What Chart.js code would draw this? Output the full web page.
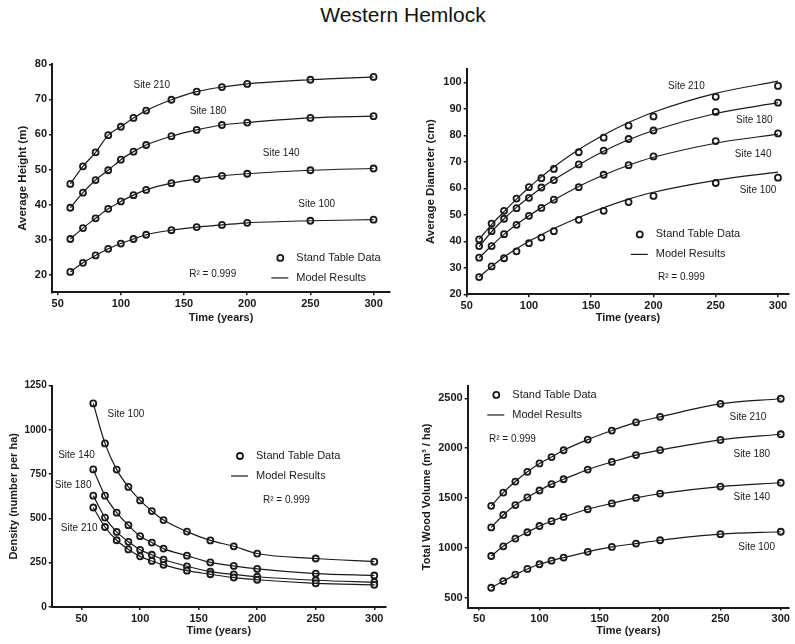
<!DOCTYPE html>
<html>
<head>
<meta charset="utf-8">
<title>Western Hemlock</title>
<script src="https://cdn.jsdelivr.net/npm/chart.js@4.4.1/dist/chart.umd.min.js"></script>
<style>
    html, body { margin: 0; padding: 0; background: #fff; }
    #page { position: relative; width: 795px; height: 644px; overflow: hidden; }
    #page canvas { position: absolute; left: 0; top: 0; }
    #title {
        position: absolute; left: 0; top: 3px; width: 806px; text-align: center;
        font: 21px "Liberation Sans", Arial, sans-serif; color: #111;
    }
</style>
</head>
<body>
<div id="page">
    <div id="title">Western Hemlock</div>
    <canvas id="cHeight" width="795" height="644"></canvas>
    <canvas id="cDiameter" width="795" height="644"></canvas>
    <canvas id="cDensity" width="795" height="644"></canvas>
    <canvas id="cVolume" width="795" height="644"></canvas>
</div>
<script>
// ---- data ----
const years = [60, 70, 80, 90, 100, 110, 120, 140, 160, 180, 200, 250, 300];
const siteNames = ['Site 210', 'Site 180', 'Site 140', 'Site 100'];
const xTicks = [50, 100, 150, 200, 250, 300];

// Average height (m)
const height210 = [45.9, 50.9, 54.9, 59.8, 62.2, 64.7, 66.8, 69.9, 72.2, 73.5, 74.4, 75.6, 76.4];
const height180 = [39.1, 43.4, 47.0, 49.8, 52.8, 55.1, 57.0, 59.5, 61.3, 62.7, 63.4, 64.7, 65.2];
const height140 = [30.2, 33.3, 36.1, 38.8, 40.9, 42.7, 44.2, 46.1, 47.3, 48.2, 48.8, 49.8, 50.3];
const height100 = [20.8, 23.4, 25.5, 27.4, 28.9, 30.2, 31.4, 32.7, 33.6, 34.2, 34.8, 35.4, 35.7];
const heightTicks = [20, 30, 40, 50, 60, 70, 80];

// Average diameter (cm): stand table points and model curves
const diam210 = [40.7, 46.7, 51.5, 56.1, 60.4, 63.8, 67.3, 73.6, 79.1, 83.6, 87.1, 94.5, 98.6];
const diam180 = [38.2, 43.8, 48.5, 52.5, 56.4, 60.3, 63.1, 69.0, 74.2, 78.6, 81.8, 88.8, 92.3];
const diam140 = [33.8, 38.2, 42.7, 46.2, 49.6, 52.6, 55.7, 60.4, 65.1, 68.7, 72.0, 77.8, 80.7];
const diam100 = [26.5, 30.5, 33.6, 36.2, 39.3, 41.4, 43.8, 48.1, 51.5, 54.8, 57.1, 62.0, 64.0];
const diamModel210 = [40.8, 46.3, 51.2, 55.9, 60.3, 64.3, 68.0, 74.6, 80.1, 84.8, 88.7, 95.8, 100.4];
const diamModel180 = [38.0, 43.6, 48.5, 52.8, 56.6, 60.1, 63.2, 68.9, 74.0, 78.3, 81.8, 88.2, 92.3];
const diamModel140 = [33.8, 38.3, 42.6, 46.3, 49.6, 52.7, 55.6, 60.7, 65.0, 68.7, 71.7, 77.0, 80.4];
const diamModel100 = [26.5, 30.5, 34.1, 37.2, 40.0, 42.5, 44.8, 49.0, 52.7, 55.9, 58.5, 63.0, 66.1];
const diamTicks = [20, 30, 40, 50, 60, 70, 80, 90, 100];

// Density (number per ha)
const dens100 = [1150, 924, 776, 678, 602, 542, 491, 426, 376, 343, 302, 274, 256];
const dens140 = [777, 629, 533, 462, 400, 364, 330, 290, 252, 232, 215, 189, 178];
const dens180 = [629, 505, 424, 368, 323, 295, 268, 230, 200, 184, 171, 151, 140];
const dens210 = [562, 452, 377, 325, 286, 260, 238, 205, 185, 166, 154, 134, 125];
const densTicks = [0, 250, 500, 750, 1000, 1250];

// Total wood volume (m3 / ha)
const vol210 = [1420, 1553, 1664, 1762, 1846, 1910, 1978, 2085, 2176, 2258, 2314, 2444, 2495];
const vol180 = [1204, 1329, 1428, 1505, 1574, 1638, 1687, 1784, 1861, 1930, 1980, 2082, 2139];
const vol140 = [917, 1014, 1092, 1155, 1218, 1266, 1309, 1386, 1445, 1500, 1543, 1614, 1652];
const vol100 = [598, 665, 730, 787, 834, 870, 901, 959, 1008, 1042, 1075, 1136, 1160];
const volTicks = [500, 1000, 1500, 2000, 2500];

const FONT = '"Liberation Sans", Arial, Helvetica, sans-serif';
const INK = '#1a1a1a';
Chart.defaults.font.family = FONT;
Chart.defaults.color = INK;

const toXY = (vals) => years.map((t, i) => ({ x: t, y: vals[i] }));

// Site names, legend and R^2 drawn at data coordinates
const notesPlugin = {
    id: 'notes',
    afterDatasetsDraw(chart, args, opts) {
        const { ctx } = chart;
        const xs = chart.scales.x, ys = chart.scales.y;
        ctx.save();
        ctx.fillStyle = INK;
        ctx.strokeStyle = INK;
        ctx.textBaseline = 'middle';

        ctx.font = '10px ' + FONT;
        ctx.textAlign = 'center';
        opts.sitePos.forEach((p, i) => {
            ctx.fillText(siteNames[i], xs.getPixelForValue(p[0]), ys.getPixelForValue(p[1]));
        });

        const cx = xs.getPixelForValue(opts.legendAt[0]);
        const cy = ys.getPixelForValue(opts.legendAt[1]);
        ctx.lineWidth = 1.8;
        ctx.beginPath();
        ctx.arc(cx, cy, 3, 0, Math.PI * 2);
        ctx.stroke();
        ctx.lineWidth = 1.2;
        ctx.beginPath();
        ctx.moveTo(cx - 9, cy + 20);
        ctx.lineTo(cx + 8, cy + 20);
        ctx.stroke();
        ctx.font = '11px ' + FONT;
        ctx.textAlign = 'left';
        ctx.fillText('Stand Table Data', cx + 16, cy);
        ctx.fillText('Model Results', cx + 16, cy + 20);

        ctx.font = '10px ' + FONT;
        ctx.fillText('R\u00B2 = 0.999', xs.getPixelForValue(opts.r2At[0]), ys.getPixelForValue(opts.r2At[1]));
        ctx.restore();
    }
};

function makePanel(id, cfg) {
    const lines = cfg.model.map(vals => ({
        data: toXY(vals),
        showLine: true,
        borderColor: INK,
        borderWidth: 1.2,
        pointRadius: 0,
        cubicInterpolationMode: 'monotone',
        fill: false
    }));
    const points = cfg.points.map(vals => ({
        data: toXY(vals),
        showLine: false,
        pointStyle: 'circle',
        pointRadius: 3,
        pointBorderWidth: 1.8,
        pointBorderColor: INK,
        pointBackgroundColor: 'rgba(255,255,255,0.75)'
    }));

    const axisCommon = {
        type: 'linear',
        grid: { drawOnChartArea: false, drawTicks: true, tickLength: 3, color: INK, lineWidth: 1.5 },
        border: { display: true, color: INK, width: 2 }
    };

    return new Chart(document.getElementById(id), {
        type: 'scatter',
        data: { datasets: [...lines, ...points] },
        options: {
            responsive: false,
            animation: false,
            events: [],
            layout: { padding: cfg.pad },
            plugins: {
                legend: { display: false },
                tooltip: { enabled: false },
                notes: cfg.notes
            },
            scales: {
                x: {
                    ...axisCommon,
                    min: cfg.xRange[0],
                    max: cfg.xRange[1],
                    afterBuildTicks: (s) => { s.ticks = xTicks.map(v => ({ value: v })); },
                    afterFit: (s) => { s.height = cfg.xAxisHeight; },
                    ticks: {
                        padding: 2, maxRotation: 0, autoSkip: false,
                        font: { size: 11, weight: 'bold' },
                        callback: (v) => String(v)
                    },
                    title: { display: true, text: 'Time (years)', padding: { top: 0, bottom: 0 }, font: { size: 11, weight: 'bold' } }
                },
                y: {
                    ...axisCommon,
                    min: cfg.yRange[0],
                    max: cfg.yRange[1],
                    afterBuildTicks: (s) => { s.ticks = cfg.yTicks.map(v => ({ value: v })); },
                    afterFit: (s) => { s.width = cfg.yAxisWidth; },
                    ticks: {
                        padding: 2, autoSkip: false,
                        font: { size: cfg.yTickSize, weight: 'bold' },
                        callback: (v) => String(v)
                    },
                    title: {
                        display: true, text: cfg.yTitle,
                        padding: { top: cfg.yTitlePad, bottom: 0 },
                        font: { size: cfg.yTitleSize, weight: 'bold' }
                    }
                }
            }
        },
        plugins: [notesPlugin]
    });
}

makePanel('cHeight', {
    model: [height210, height180, height140, height100],
    points: [height210, height180, height140, height100],
    xRange: [45.5, 313], yRange: [15, 80], yTicks: heightTicks,
    pad: { left: 0, top: 64.3, right: 405, bottom: 319.8 },
    yAxisWidth: 52, xAxisHeight: 31.9, yTickSize: 11,
    yTitle: 'Average Height (m)', yTitleSize: 11.5, yTitlePad: 15.8,
    notes: {
        sitePos: [[124.5, 74.1], [169, 66.5], [226.9, 54.7], [255, 40]],
        legendAt: [226.2, 24.8], r2At: [154.1, 20.1]
    }
});

makePanel('cDiameter', {
    model: [diamModel210, diamModel180, diamModel140, diamModel100],
    points: [diam210, diam180, diam140, diam100],
    xRange: [50, 309], yRange: [20, 105], yTicks: diamTicks,
    pad: { left: 400, top: 69, right: 5.5, bottom: 319.8 },
    yAxisWidth: 66.7, xAxisHeight: 29.9, yTickSize: 11,
    yTitle: 'Average Diameter (cm)', yTitleSize: 11.5, yTitlePad: 23.8,
    notes: {
        sitePos: [[226.4, 98.6], [281, 85.5], [280, 72.8], [284, 59.4]],
        legendAt: [189, 42.6], r2At: [203.6, 26.3]
    }
});

makePanel('cDensity', {
    model: [dens210, dens180, dens140, dens100],
    points: [dens210, dens180, dens140, dens100],
    xRange: [24.5, 310], yRange: [0, 1250], yTicks: densTicks,
    pad: { left: 0, top: 385.7, right: 409, bottom: 6.8 },
    yAxisWidth: 51.7, xAxisHeight: 30.2, yTickSize: 10,
    yTitle: 'Density (number per ha)', yTitleSize: 11, yTitlePad: 7.4,
    notes: {
        sitePos: [[48, 446], [42.8, 685], [45.7, 855], [87.9, 1090]],
        legendAt: [185.3, 853], r2At: [204.9, 604]
    }
});

makePanel('cVolume', {
    model: [vol210, vol180, vol140, vol100],
    points: [vol210, vol180, vol140, vol100],
    xRange: [40.5, 307], yRange: [400, 2620], yTicks: volTicks,
    pad: { left: 400, top: 386.3, right: 0, bottom: 6.8 },
    yAxisWidth: 67.7, xAxisHeight: 29.7, yTickSize: 11,
    yTitle: 'Total Wood Volume (m\u00B3 / ha)', yTitleSize: 11, yTitlePad: 20.7,
    notes: {
        sitePos: [[272.8, 2306], [276, 1938], [276, 1503], [280, 1002]],
        legendAt: [64.2, 2533], r2At: [58.1, 2089]
    }
});
</script>
</body>
</html>
